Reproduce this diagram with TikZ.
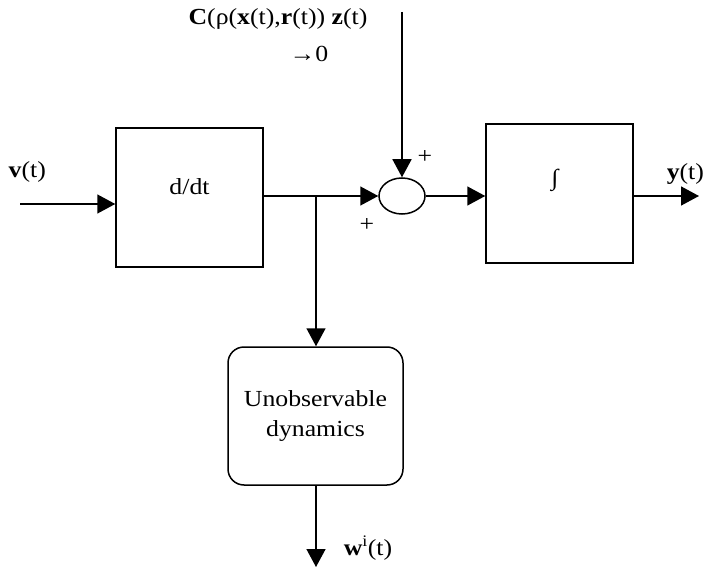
\documentclass[tikz,border=0pt]{standalone}
\usepackage{fontspec}
\setmainfont{Liberation Serif}[FakeStretch=1.12]
\usetikzlibrary{arrows.meta,shapes.geometric}
\begin{document}
\begin{tikzpicture}[x=1pt,y=-1pt,
  line width=1.5pt,
  every node/.style={font=\fontsize{23}{30}\selectfont, inner sep=0pt},
  arr/.style={-{Triangle[length=18pt,width=19pt]}},
  blockbox/.style={draw, rectangle, minimum width=147pt, minimum height=139pt},
  sumnode/.style={draw, ellipse, minimum width=46pt, minimum height=36pt},
  dynbox/.style={draw, rectangle, rounded corners=16pt, minimum width=175pt, minimum height=138pt, align=center}
]
\useasboundingbox (0,0) rectangle (707,567);
% blocks
\node[blockbox] (ddt) at (189.5,197.5) {};
\node (ddtlab) at (189.5,187) {d/dt};
\node[blockbox] (integ) at (559.5,193.5) {};
\node (intlab) at (555,180) {∫};
\node[sumnode] (sum) at (402,196) {};
\node[dynbox] (dyn) at (315.5,416) {Unobservable\\dynamics};
% coordinates
\coordinate (vin) at (20,204);
\coordinate (ctop) at (402,12);
\coordinate (yout) at (699,196);
\coordinate (j) at (316,196);
\coordinate (wout) at (316,567);
% connectors
\draw[arr] (vin) -- (vin -| ddt.west);
\draw (j -| ddt.east) -- (j);
\draw[arr] (j) -- (sum.west);
\draw[arr] (j) -- (j |- dyn.north);
\draw[arr] (ctop) -- (sum.north);
\draw[arr] (sum.east) -- (sum.east -| integ.west);
\draw[arr] (yout -| integ.east) -- (yout);
\draw[arr] (wout |- dyn.south) -- (wout);
% labels
\node[anchor=west] (vlab) at (8,172) {\textbf{v}(t)};
\node[anchor=west] (ylab) at (666,174) {\textbf{y}(t)};
\node[anchor=west] (wlab) at (343,548) {\textbf{w}\textsuperscript{i}(t)};
\node (plus1) at (425,157) {+};
\node (plus2) at (367,225) {+};
\node (top1) at (278,19) {\textbf{C}(ρ(\textbf{x}(t),\textbf{r}(t)) \textbf{z}(t)};
\node (top2) at (309,54) {→0};
\end{tikzpicture}
\end{document}
